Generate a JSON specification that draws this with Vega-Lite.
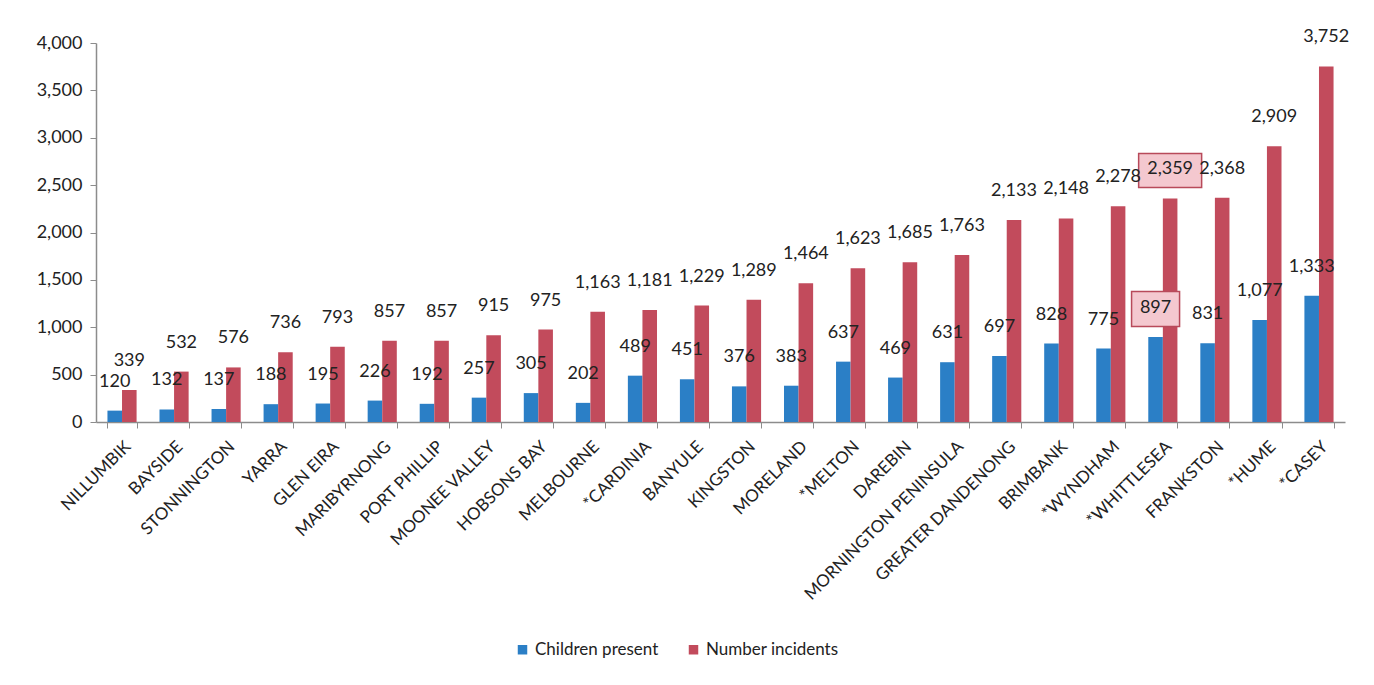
{
  "$schema": "https://vega.github.io/schema/vega-lite/v6.json",
  "width": 1249,
  "height": 379,
  "autosize": {"type": "none"},
  "padding": {"left": 96, "top": 43, "right": 29, "bottom": 263},
  "background": "white",
  "config": {"font": "Lato", "view": {"stroke": null}},
  "data": {
    "values": [
      {"municipality": "NILLUMBIK", "series": "Children present", "value": 120},
      {"municipality": "NILLUMBIK", "series": "Number incidents", "value": 339},
      {"municipality": "BAYSIDE", "series": "Children present", "value": 132},
      {"municipality": "BAYSIDE", "series": "Number incidents", "value": 532},
      {"municipality": "STONNINGTON", "series": "Children present", "value": 137},
      {"municipality": "STONNINGTON", "series": "Number incidents", "value": 576},
      {"municipality": "YARRA", "series": "Children present", "value": 188},
      {"municipality": "YARRA", "series": "Number incidents", "value": 736},
      {"municipality": "GLEN EIRA", "series": "Children present", "value": 195},
      {"municipality": "GLEN EIRA", "series": "Number incidents", "value": 793},
      {"municipality": "MARIBYRNONG", "series": "Children present", "value": 226},
      {"municipality": "MARIBYRNONG", "series": "Number incidents", "value": 857},
      {"municipality": "PORT PHILLIP", "series": "Children present", "value": 192},
      {"municipality": "PORT PHILLIP", "series": "Number incidents", "value": 857},
      {"municipality": "MOONEE VALLEY", "series": "Children present", "value": 257},
      {"municipality": "MOONEE VALLEY", "series": "Number incidents", "value": 915},
      {"municipality": "HOBSONS BAY", "series": "Children present", "value": 305},
      {"municipality": "HOBSONS BAY", "series": "Number incidents", "value": 975},
      {"municipality": "MELBOURNE", "series": "Children present", "value": 202},
      {"municipality": "MELBOURNE", "series": "Number incidents", "value": 1163},
      {"municipality": "*CARDINIA", "series": "Children present", "value": 489},
      {"municipality": "*CARDINIA", "series": "Number incidents", "value": 1181},
      {"municipality": "BANYULE", "series": "Children present", "value": 451},
      {"municipality": "BANYULE", "series": "Number incidents", "value": 1229},
      {"municipality": "KINGSTON", "series": "Children present", "value": 376},
      {"municipality": "KINGSTON", "series": "Number incidents", "value": 1289},
      {"municipality": "MORELAND", "series": "Children present", "value": 383},
      {"municipality": "MORELAND", "series": "Number incidents", "value": 1464},
      {"municipality": "*MELTON", "series": "Children present", "value": 637},
      {"municipality": "*MELTON", "series": "Number incidents", "value": 1623},
      {"municipality": "DAREBIN", "series": "Children present", "value": 469},
      {"municipality": "DAREBIN", "series": "Number incidents", "value": 1685},
      {"municipality": "MORNINGTON PENINSULA", "series": "Children present", "value": 631},
      {"municipality": "MORNINGTON PENINSULA", "series": "Number incidents", "value": 1763},
      {"municipality": "GREATER DANDENONG", "series": "Children present", "value": 697},
      {"municipality": "GREATER DANDENONG", "series": "Number incidents", "value": 2133},
      {"municipality": "BRIMBANK", "series": "Children present", "value": 828},
      {"municipality": "BRIMBANK", "series": "Number incidents", "value": 2148},
      {"municipality": "*WYNDHAM", "series": "Children present", "value": 775},
      {"municipality": "*WYNDHAM", "series": "Number incidents", "value": 2278},
      {"municipality": "*WHITTLESEA", "series": "Children present", "value": 897},
      {"municipality": "*WHITTLESEA", "series": "Number incidents", "value": 2359},
      {"municipality": "FRANKSTON", "series": "Children present", "value": 831},
      {"municipality": "FRANKSTON", "series": "Number incidents", "value": 2368},
      {"municipality": "*HUME", "series": "Children present", "value": 1077},
      {"municipality": "*HUME", "series": "Number incidents", "value": 2909},
      {"municipality": "*CASEY", "series": "Children present", "value": 1333},
      {"municipality": "*CASEY", "series": "Number incidents", "value": 3752}
    ]
  },
  "encoding": {
    "x": {
      "field": "municipality",
      "type": "nominal",
      "sort": null,
      "scale": {"paddingInner": 0.44, "paddingOuter": 0.22},
      "axis": {
        "title": null,
        "labelAngle": -45,
        "labelAlign": "right",
        "labelBaseline": "top",
        "labelFontSize": 17,
        "labelColor": "#222222",
        "labelLimit": 400,
        "labelOverlap": false,
        "labelPadding": 10,
        "tickBand": "extent",
        "tickSize": 6,
        "tickColor": "#8c8c8c",
        "domainColor": "#8c8c8c",
        "domainWidth": 1.5
      }
    },
    "xOffset": {"field": "series", "type": "nominal", "sort": ["Children present", "Number incidents"]},
    "y": {
      "field": "value",
      "type": "quantitative",
      "scale": {"domain": [0, 4000]},
      "axis": {
        "title": null,
        "grid": false,
        "values": [0, 500, 1000, 1500, 2000, 2500, 3000, 3500, 4000],
        "format": ",d",
        "labelFontSize": 18,
        "labelColor": "#222222",
        "labelPadding": 8,
        "tickSize": 6,
        "tickColor": "#8c8c8c",
        "domainColor": "#8c8c8c",
        "domainWidth": 1.5
      }
    }
  },
  "layer": [
    {
      "mark": {"type": "bar"},
      "encoding": {
        "color": {
          "field": "series",
          "type": "nominal",
          "scale": {"domain": ["Children present", "Number incidents"], "range": ["#2b7fc6", "#c24b5c"]},
          "legend": {
            "title": null,
            "orient": "none",
            "legendX": 418,
            "legendY": 598,
            "direction": "horizontal",
            "labelFontSize": 17,
            "labelColor": "#222222",
            "symbolType": "square",
            "symbolSize": 90,
            "columnPadding": 26
          }
        }
      }
    },
    {
      "transform": [{"filter": "datum.municipality == '*WHITTLESEA' && datum.series == 'Number incidents'"}],
      "mark": {"type": "point", "shape": "M-1,-0.54H1V0.54H-1Z", "filled": true, "fill": "#f4c8cf", "stroke": "#b84a5a", "strokeWidth": 1.5, "opacity": 1, "size": 3969, "yOffset": -28}
    },
    {
      "transform": [{"filter": "datum.municipality == '*WHITTLESEA' && datum.series == 'Children present'"}],
      "mark": {"type": "point", "shape": "M-1,-0.73H1V0.73H-1Z", "filled": true, "fill": "#f4c8cf", "stroke": "#b84a5a", "strokeWidth": 1.5, "opacity": 1, "size": 2304, "yOffset": -28}
    },
    {
      "mark": {"type": "text", "baseline": "bottom", "dy": -20, "fontSize": 18, "color": "#222222"},
      "encoding": {"text": {"field": "value", "type": "quantitative", "format": ","}}
    }
  ]
}
